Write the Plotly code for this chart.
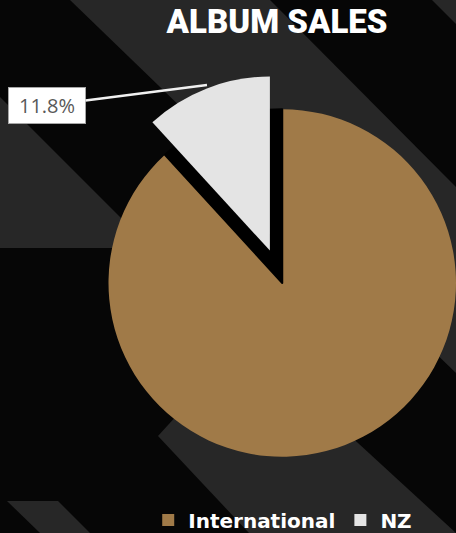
import math
import plotly.graph_objects as go

# ---- data ----
labels = ["International", "NZ"]
values = [88.2, 11.8]
title_text = "ALBUM SALES"

W, H = 456, 533
GOLD = "#A07A48"
SILVER = "#E4E4E4"
BG = "#060606"
STRIPE = "#272727"
CLEAR = "rgba(0,0,0,0)"


def px(x, y):
    return x / W, 1 - y / H


# main pie geometry (pixels)
cx, cy, r = 282.5, 283.0, 174.0
pull = 0.2

# pulled NZ slice: offset along its bisector (clockwise from 12 o'clock, NZ is last)
total = sum(values)
nz_frac = values[1] / total
bis = math.radians(360 * nz_frac / 2)  # measured counter-clockwise from top
ncx = cx - pull * r * math.sin(bis)
ncy = cy - pull * r * math.cos(bis)


def domain(c_x, c_y, rad):
    x0, x1 = max(c_x - rad, 0), min(c_x + rad, W)
    y0, y1 = c_y - rad, c_y + rad
    return dict(x=[x0 / W, x1 / W], y=[1 - y1 / H, 1 - y0 / H])


common = dict(labels=labels, values=values, sort=False, direction="clockwise",
              rotation=0, textinfo="none", hoverinfo="label+percent")

fig = go.Figure()
# base pie (gives legend colours)
fig.add_trace(go.Pie(**common, domain=domain(cx, cy, r),
                     marker=dict(colors=[GOLD, SILVER], line=dict(width=0))))
# black cover for the NZ slice's original place (shadow gap)
fig.add_trace(go.Pie(**common, domain=domain(cx, cy, r),
                     marker=dict(colors=[CLEAR, "#000000"],
                                 line=dict(color=[CLEAR, "#000000"], width=[0, 2]))))
# pulled-out NZ slice
fig.add_trace(go.Pie(**common, domain=domain(ncx, ncy, r),
                     marker=dict(colors=[CLEAR, SILVER], line=dict(width=0))))

# background stripes
stripes = [
    [(70, 0), (270, 0), (456, 187), (456, 373)],
    [(432, 0), (456, 0), (456, 24)],
    [(0, 97), (151, 248), (0, 248)],
    [(158, 436), (200, 390), (300, 390), (358, 443), (456, 533), (249, 533)],
    [(7, 501), (58, 501), (90, 533), (40, 533)],
]
shapes = []
for poly in stripes:
    pts = [px(x, y) for x, y in poly]
    path = "M " + " L ".join(f"{a:.5f},{b:.5f}" for a, b in pts) + " Z"
    shapes.append(dict(type="path", path=path, xref="paper", yref="paper",
                       fillcolor=STRIPE, line=dict(width=0), layer="below"))

tipx, tipy = px(207, 85)
fig.add_annotation(
    x=tipx, y=tipy, xref="paper", yref="paper",
    text=f"{100 * nz_frac:.1f}%",
    showarrow=True, arrowhead=0, arrowwidth=2.5, arrowcolor="#F0F0F0",
    ax=47 - 207, ay=105.5 - 85, standoff=0,
    font=dict(family="Open Sans", size=20, color="#595959"),
    bgcolor="#FFFFFF", bordercolor="#A6A6A6", borderwidth=1, borderpad=1,
    width=74, height=33,
)

fig.update_layout(
    width=W, height=H,
    margin=dict(l=0, r=0, t=0, b=0, autoexpand=False),
    paper_bgcolor=BG, plot_bgcolor=BG,
    shapes=shapes,
    title=dict(text=title_text, x=277 / W, xanchor="center", y=1 - 21.5 / H, yanchor="middle",
               font=dict(family="Roboto", size=33, color="white", weight=900)),
    showlegend=True,
    legend=dict(orientation="h", x=0.62, xanchor="center", y=1 - 520 / H, yanchor="middle",
                font=dict(family="DejaVu Sans", size=20, color="white", weight="bold"),
                bgcolor="rgba(0,0,0,0)"),
)

fig.write_html("out.html", config={"displayModeBar": False},
               post_script="document.body.style.margin='0';document.body.style.overflow='hidden';")
